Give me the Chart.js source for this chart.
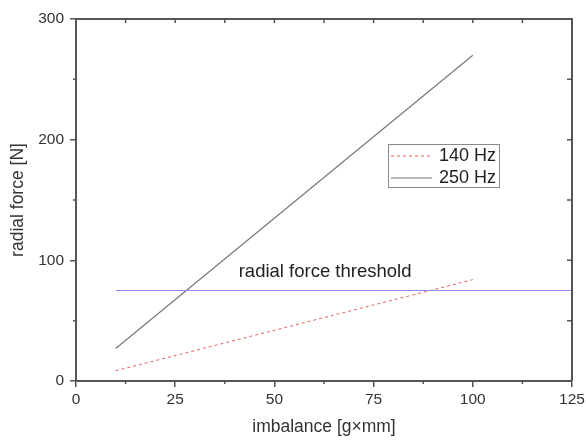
<!DOCTYPE html>
<html>
<head>
<meta charset="utf-8">
<script src="https://cdn.jsdelivr.net/npm/chart.js@4.4.0/dist/chart.umd.min.js"></script>
<style>
  body { margin: 0; background: #fff; }
  #wrap { width: 586px; height: 440px; }
</style>
</head>
<body>
<div id="wrap"><canvas id="forceChart" width="586" height="440"></canvas></div>
<script>
// data
const imbalance = [10, 100];
const force140 = [8.5, 84];
const force250 = [27, 270];
const thresholdX = [10, 125];
const thresholdY = [75, 75];
const xTicks = [0, 25, 50, 75, 100, 125];
const yTicks = [0, 100, 200, 300];

const axisColor = '#555';
const textColor = '#333';
const font = 'Liberation Sans, Arial, sans-serif';

function pts(xs, ys) {
  return xs.map((x, i) => ({ x: x, y: ys[i] }));
}

// frame, minor ticks, legend box and the threshold label
const extras = {
  id: 'extras',
  afterDraw(chart) {
    const c = chart.ctx;
    const a = chart.chartArea;
    const sx = chart.scales.x, sy = chart.scales.y;
    c.save();
    c.strokeStyle = axisColor;
    c.lineWidth = 2;
    c.beginPath();
    c.moveTo(a.left, a.top); c.lineTo(a.right, a.top); c.lineTo(a.right, a.bottom);
    c.stroke();

    c.lineWidth = 1.5;
    c.beginPath();
    for (let v = 0; v <= 125; v += 12.5) {
      const px = sx.getPixelForValue(v);
      c.moveTo(px, a.top); c.lineTo(px, a.top + 4);
      if (v % 25 !== 0) { c.moveTo(px, a.bottom); c.lineTo(px, a.bottom + 3); }
    }
    for (let v = 0; v <= 300; v += 50) {
      const py = sy.getPixelForValue(v);
      c.moveTo(a.right, py); c.lineTo(a.right - 5, py);
      if (v % 100 !== 0) { c.moveTo(a.left, py); c.lineTo(a.left - 3, py); }
    }
    c.stroke();

    // threshold label
    c.fillStyle = '#222';
    c.font = '18.5px ' + font;
    c.textBaseline = 'middle';
    c.textAlign = 'left';
    c.fillText('radial force threshold', sx.getPixelForValue(41), sy.getPixelForValue(90));

    // legend
    const bx = 388, by = 144, bw = 111, bh = 43;
    c.strokeStyle = '#888';
    c.lineWidth = 1;
    c.strokeRect(bx + 0.5, by + 0.5, bw, bh);
    const items = chart.data.datasets.filter(d => d.inLegend);
    items.forEach((d, i) => {
      const y = by + 12 + i * 22;
      c.strokeStyle = d.borderColor;
      c.lineWidth = d.borderWidth;
      c.setLineDash(d.borderDash || []);
      c.beginPath();
      c.moveTo(bx + 3, y); c.lineTo(bx + 44, y);
      c.stroke();
      c.setLineDash([]);
      c.fillStyle = '#222';
      c.font = '18px ' + font;
      c.fillText(d.label, bx + 51, y);
    });
    c.restore();
  }
};

const ctx = document.getElementById('forceChart').getContext('2d');
new Chart(ctx, {
  type: 'line',
  data: {
    datasets: [
      {
        label: 'radial force threshold',
        data: pts(thresholdX, thresholdY),
        borderColor: '#8c8cf2',
        borderWidth: 1.2,
        pointRadius: 0
      },
      {
        label: '140 Hz',
        data: pts(imbalance, force140),
        borderColor: '#e06060',
        borderWidth: 1,
        borderDash: [3, 3],
        pointRadius: 0,
        inLegend: true
      },
      {
        label: '250 Hz',
        data: pts(imbalance, force250),
        borderColor: '#777',
        borderWidth: 1.2,
        pointRadius: 0,
        inLegend: true
      }
    ]
  },
  options: {
    responsive: false,
    animation: false,
    layout: { padding: { top: 19, right: 14, left: 0, bottom: 0 } },
    plugins: { legend: { display: false }, tooltip: { enabled: false } },
    scales: {
      x: {
        type: 'linear',
        min: 0, max: 125,
        afterBuildTicks: s => { s.ticks = xTicks.map(v => ({ value: v })); },
        afterFit: s => { s.height = 59; s.paddingLeft = 0; s.paddingRight = 0; },
        ticks: { color: textColor, font: { family: font, size: 15.5 }, padding: 3, maxRotation: 0 },
        grid: { drawOnChartArea: false, tickLength: 6, color: axisColor, lineWidth: 1.5 },
        border: { color: axisColor, width: 2 },
        title: { display: true, text: 'imbalance [g×mm]', color: textColor,
                 font: { family: font, size: 17.5 }, padding: { top: 0, bottom: 2.5 } }
      },
      y: {
        min: 0, max: 300,
        afterBuildTicks: s => { s.ticks = yTicks.map(v => ({ value: v })); },
        afterFit: s => { s.width = 76; s.paddingTop = 0; s.paddingBottom = 0; },
        ticks: { color: textColor, font: { family: font, size: 15.5 }, padding: 6 },
        grid: { drawOnChartArea: false, tickLength: 6, color: axisColor, lineWidth: 1.5 },
        border: { color: axisColor, width: 2 },
        title: { display: true, text: 'radial force [N]', color: textColor,
                 font: { family: font, size: 17.5 }, padding: { top: 7.5, bottom: 0 } }
      }
    }
  },
  plugins: [extras]
});
</script>
</body>
</html>
